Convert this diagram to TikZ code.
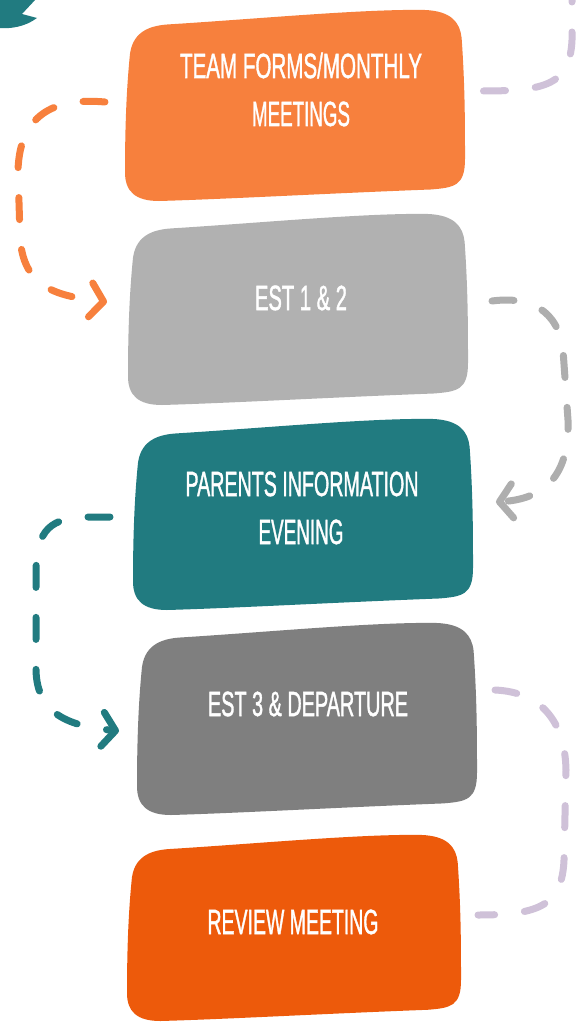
\documentclass[tikz,border=0pt]{standalone}
\usepackage{fontspec}
\setmainfont{Liberation Sans}
\newfontfamily\lblfont{Liberation Sans}[UprightFeatures={FakeBold=1.6}]
\usetikzlibrary{arrows.meta}
\definecolor{orA}{HTML}{F7803D}
\definecolor{grA}{HTML}{B1B1B1}
\definecolor{tlA}{HTML}{217B80}
\definecolor{grB}{HTML}{7F7F7F}
\definecolor{orB}{HTML}{ED5A0B}
\definecolor{lavA}{HTML}{CFC1D8}
\definecolor{grArrow}{HTML}{AEAEAE}
\newcommand\blobfill[5]{%
  \begin{scope}[shift={(#1,#2)},xscale={#3-#1},yscale={#4-#2}]
    \fill[#5] (0.015,0.23) .. controls (0.025,0.11) and (0.08,0.085) .. (0.13,0.08)
      .. controls (0.4,0.05) and (0.7,0.0) .. (0.88,0.005)
      .. controls (0.96,0.01) and (0.985,0.07) .. (0.99,0.15)
      .. controls (1.0,0.4) and (1.0,0.6) .. (1.0,0.78)
      .. controls (1.0,0.92) and (0.97,0.93) .. (0.9,0.94)
      .. controls (0.6,0.96) and (0.3,0.99) .. (0.1,1.0)
      .. controls (0.03,1.0) and (0.0,0.95) .. (0.0,0.85)
      .. controls (0.0,0.6) and (0.005,0.4) .. cycle;
  \end{scope}}
\newcommand\blbl[4]{\node[lbl] (#1) at (#2) {\resizebox{#3}{\height}{#4}};}
\begin{document}
\begin{tikzpicture}[x=1pt,y=-1pt,
  lbl/.style={anchor=base,inner sep=0pt,text=white,font=\lblfont\fontsize{35pt}{40pt}\selectfont},
  flowarrow/.style={line width=7pt,line cap=round,dash pattern=on 22pt off 30pt},
  barb/.style={-{Straight Barb[length=13pt,width=34pt,round]}}]
\useasboundingbox (0,0) rectangle (581,1022);
\fill[white] (0,0) rectangle (581,1022);
% corner shape
\fill[tlA] (-1,-1) -- (36,-1) -- (22,14) -- (37,18) .. controls (25,27) and (10,29) .. (-1,28) -- cycle;
% blobs
\blobfill{125}{9}{465}{201}{orA}
\blobfill{128}{213}{468}{405}{grA}
\blobfill{133}{418}{473}{610}{tlA}
\blobfill{137}{622}{477}{815}{grB}
\blobfill{127}{834}{461}{1021}{orB}
% labels
\blbl{t1a}{301,78}{242pt}{TEAM FORMS/MONTHLY}
\blbl{t1b}{301,126}{98pt}{MEETINGS}
\blbl{t2}{301,310}{92pt}{EST 1 \& 2}
\blbl{t3a}{302,496}{233pt}{PARENTS INFORMATION}
\blbl{t3b}{301,544}{85pt}{EVENING}
\blbl{t4}{308,716}{200pt}{EST 3 \& DEPARTURE}
\blbl{t5}{293,934}{171pt}{REVIEW MEETING}
% connector end points
\coordinate (la0) at (572,-20);
\coordinate (la1) at (483,91);
\coordinate (oa0) at (105,102);
\coordinate (oa1) at (107,302);
\coordinate (ga0) at (492,301);
\coordinate (ga1) at (496,502);
\coordinate (ta0) at (110,517);
\coordinate (ta1) at (119,731);
\coordinate (lb0) at (495,690);
\coordinate (lb1) at (478,915);
% connectors
\draw[flowarrow,lavA] (la0) -- (572,40) .. controls (570,85) and (545,91) .. (la1);
\draw[flowarrow,orA,barb] (oa0) .. controls (60,98) and (20,110) .. (18,170) -- (20,235) .. controls (22,290) and (60,296) .. (oa1);
\draw[flowarrow,grArrow,barb] (ga0) .. controls (530,296) and (558,310) .. (563,350) -- (568,420) .. controls (570,480) and (540,499) .. (ga1);
\draw[flowarrow,tlA,barb] (ta0) -- (90,517) .. controls (50,517) and (37,530) .. (36,570) -- (36,670) .. controls (37,715) and (70,726) .. (ta1);
\draw[flowarrow,lavA] (lb0) .. controls (540,692) and (565,720) .. (566,770) -- (564,860) .. controls (562,905) and (540,915) .. (lb1);
\end{tikzpicture}
\end{document}
